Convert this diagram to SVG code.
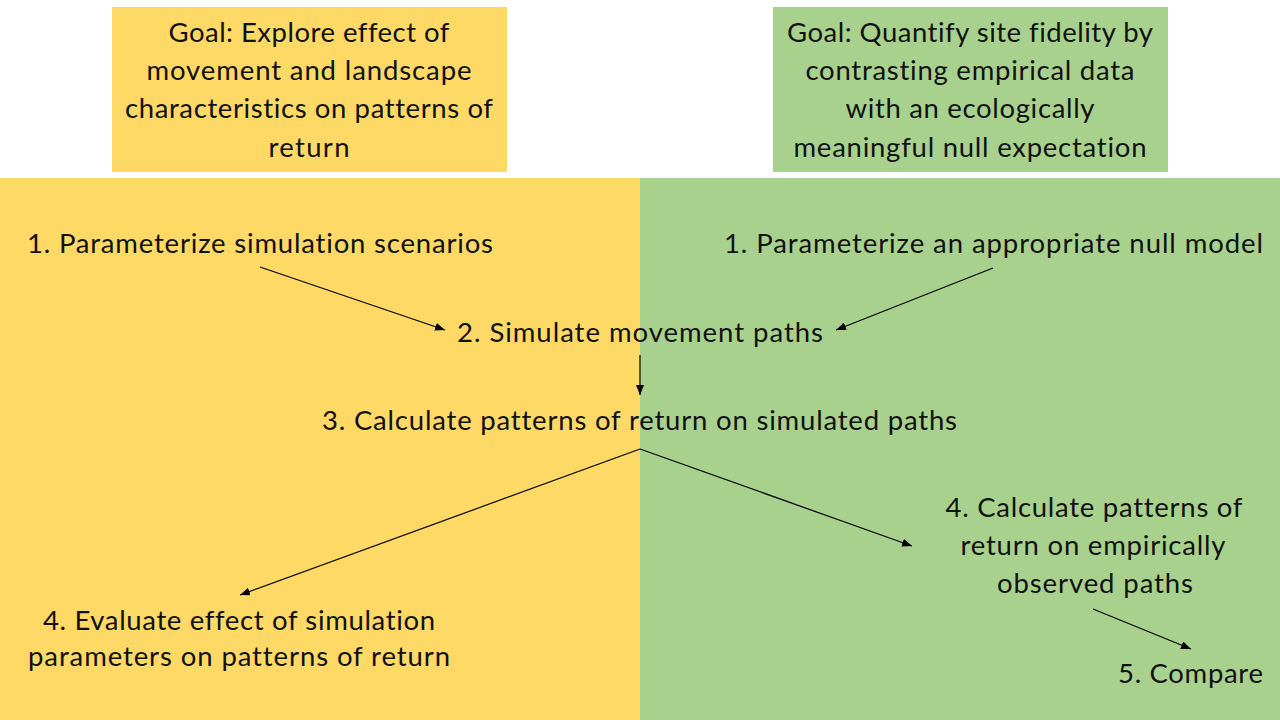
<svg xmlns="http://www.w3.org/2000/svg" width="1280" height="720" viewBox="0 0 1280 720">
<defs>
<style>
.t{font-family:Lato,"Liberation Sans",sans-serif;font-size:27.5px;fill:#111;font-variant-ligatures:none;font-feature-settings:"liga" 0;}
.c{text-anchor:middle;}
.yel{fill:#FFD966;}
.grn{fill:#A9D18E;}
.conn line{stroke:#000;stroke-width:1.2;marker-end:url(#ah);}
</style>
<marker id="ah" markerUnits="userSpaceOnUse" markerWidth="10" markerHeight="8" refX="10" refY="4" orient="auto">
<path d="M0,0 L10,4 L0,8 z" fill="#000"/>
</marker>
</defs>
<rect width="1280" height="720" fill="#fff"/>
<g id="background">
<rect class="yel" x="0" y="178" width="640" height="542"/>
<rect class="grn" x="640" y="178" width="640" height="542"/>
</g>
<g id="goal-left">
<rect class="yel" x="112" y="7" width="395" height="165"/>
<text class="t c" x="309" y="42" textLength="281">Goal: Explore effect of</text>
<text class="t c" x="309" y="80" textLength="325">movement and landscape</text>
<text class="t c" x="309" y="118" textLength="368">characteristics on patterns of</text>
<text class="t c" x="309" y="157" textLength="81">return</text>
</g>
<g id="goal-right">
<rect class="grn" x="773" y="7" width="395" height="165"/>
<text class="t c" x="970" y="42" textLength="366">Goal: Quantify site fidelity by</text>
<text class="t c" x="970" y="80" textLength="329">contrasting empirical data</text>
<text class="t c" x="970" y="118" textLength="249">with an ecologically</text>
<text class="t c" x="970" y="157" textLength="353">meaningful null expectation</text>
</g>
<g id="n1-left">
<text class="t" x="27" y="253" textLength="466">1. Parameterize simulation scenarios</text>
</g>
<g id="n1-right">
<text class="t" x="724" y="253" textLength="539">1. Parameterize an appropriate null model</text>
</g>
<g id="n2">
<text class="t" x="457" y="342" textLength="366">2. Simulate movement paths</text>
</g>
<g id="n3">
<text class="t" x="322" y="430" textLength="635">3. Calculate patterns of return on simulated paths</text>
</g>
<g id="n4-right">
<text class="t c" x="1094" y="517" textLength="297">4. Calculate patterns of</text>
<text class="t c" x="1093" y="555" textLength="265">return on empirically</text>
<text class="t c" x="1095" y="593" textLength="196">observed paths</text>
</g>
<g id="n4-left">
<text class="t c" x="239" y="630" textLength="392">4. Evaluate effect of simulation</text>
<text class="t c" x="239" y="666" textLength="422">parameters on patterns of return</text>
</g>
<g id="n5">
<text class="t" x="1118" y="683" textLength="145">5. Compare</text>
</g>
<g id="connectors" class="conn">
<line x1="260" y1="267" x2="445" y2="330"/>
<line x1="993" y1="268" x2="836" y2="330"/>
<line x1="640" y1="355" x2="640" y2="395"/>
<line x1="640" y1="449" x2="240" y2="595"/>
<line x1="640" y1="449" x2="912" y2="546"/>
<line x1="1093" y1="609" x2="1191" y2="649"/>
</g>
</svg>
